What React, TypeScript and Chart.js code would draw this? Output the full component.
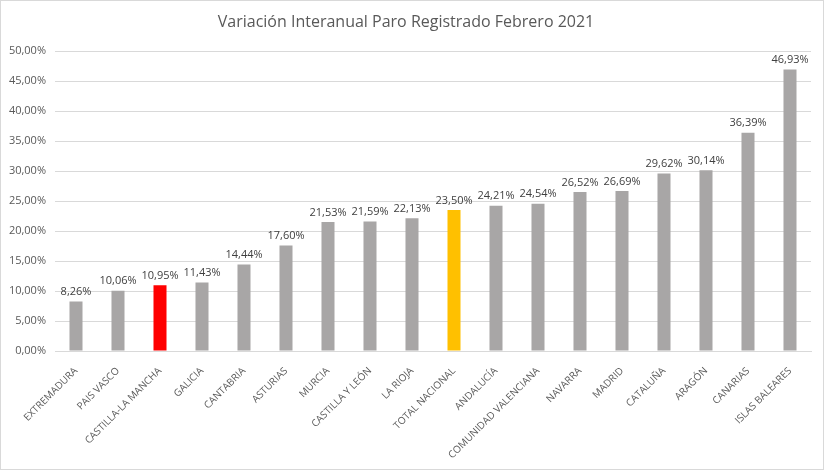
import React, { useEffect, useRef } from "react";
import { Chart, registerables } from "chart.js";

Chart.register(...registerables);

const chartTitle = "Variación Interanual Paro Registrado Febrero 2021";

const categories = [
  "EXTREMADURA",
  "PAIS VASCO",
  "CASTILLA-LA MANCHA",
  "GALICIA",
  "CANTABRIA",
  "ASTURIAS",
  "MURCIA",
  "CASTILLA Y LEÓN",
  "LA RIOJA",
  "TOTAL NACIONAL",
  "ANDALUCÍA",
  "COMUNIDAD VALENCIANA",
  "NAVARRA",
  "MADRID",
  "CATALUÑA",
  "ARAGÓN",
  "CANARIAS",
  "ISLAS BALEARES",
];

const values = [
  8.26, 10.06, 10.95, 11.43, 14.44, 17.6, 21.53, 21.59, 22.13, 23.5, 24.21,
  24.54, 26.52, 26.69, 29.62, 30.14, 36.39, 46.93,
];

const highlightRed = "CASTILLA-LA MANCHA";
const highlightYellow = "TOTAL NACIONAL";

const yMin = 0;
const yMax = 50;
const yStep = 5;

const FONT = "'Open Sans', 'DejaVu Sans', sans-serif";

const fmt = (v: number) => v.toFixed(2).replace(".", ",") + "%";

const dataLabelPlugin = {
  id: "dataLabels",
  afterDatasetsDraw(chart: any) {
    const ctx = chart.ctx;
    const meta = chart.getDatasetMeta(0);
    ctx.save();
    ctx.font = `11px ${FONT}`;
    ctx.fillStyle = "#404040";
    ctx.textAlign = "center";
    ctx.textBaseline = "bottom";
    meta.data.forEach((el: any, i: number) => {
      const v = chart.data.datasets[0].data[i];
      ctx.fillText(fmt(v), el.x, el.y - 4);
    });
    ctx.restore();
  },
};

export default function App() {
  const ref = useRef<HTMLCanvasElement | null>(null);

  useEffect(() => {
    document.body.style.margin = "0";
    if (!ref.current) return;
    const colors = categories.map((c) =>
      c === highlightRed ? "#FF0000" : c === highlightYellow ? "#FFC000" : "#A8A6A6"
    );
    const chart = new Chart(ref.current, {
      type: "bar",
      data: {
        labels: categories,
        datasets: [
          {
            data: values,
            backgroundColor: colors,
            borderWidth: 0,
            categoryPercentage: 1,
            barPercentage: 0.31,
          },
        ],
      },
      options: {
        responsive: false,
        animation: false,
        layout: { padding: { left: 0, right: 12, top: 0, bottom: 0 } },
        plugins: {
          legend: { display: false },
          tooltip: { enabled: false },
          title: {
            display: true,
            text: chartTitle,
            color: "#595959",
            font: { family: FONT, size: 16, weight: "normal" },
            padding: { top: 12, bottom: 19 },
          },
        },
        scales: {
          x: {
            grid: { display: false, drawTicks: false },
            border: { color: "#d9d9d9" },
            ticks: {
              autoSkip: false,
              maxRotation: 45,
              minRotation: 45,
              color: "#595959",
              font: { family: FONT, size: 10 },
              padding: 14,
            },
            afterFit(scale: any) {
              scale.height = 118;
            },
          },
          y: {
            min: yMin,
            max: yMax,
            grid: { color: "#d9d9d9", drawTicks: false },
            border: { display: false },
            ticks: {
              stepSize: yStep,
              color: "#595959",
              font: { family: FONT, size: 11 },
              padding: 9,
              callback: (v: any) => fmt(Number(v)),
            },
            afterFit(scale: any) {
              scale.width = 54;
            },
          },
        },
      },
      plugins: [dataLabelPlugin],
    });
    return () => chart.destroy();
  }, []);

  return (
    <div
      style={{
        position: "absolute",
        left: 0,
        top: 0,
        width: 822,
        height: 468,
        border: "1px solid #d9d9d9",
        background: "#fff",
      }}
    >
      <canvas ref={ref} width={822} height={468} />
    </div>
  );
}
